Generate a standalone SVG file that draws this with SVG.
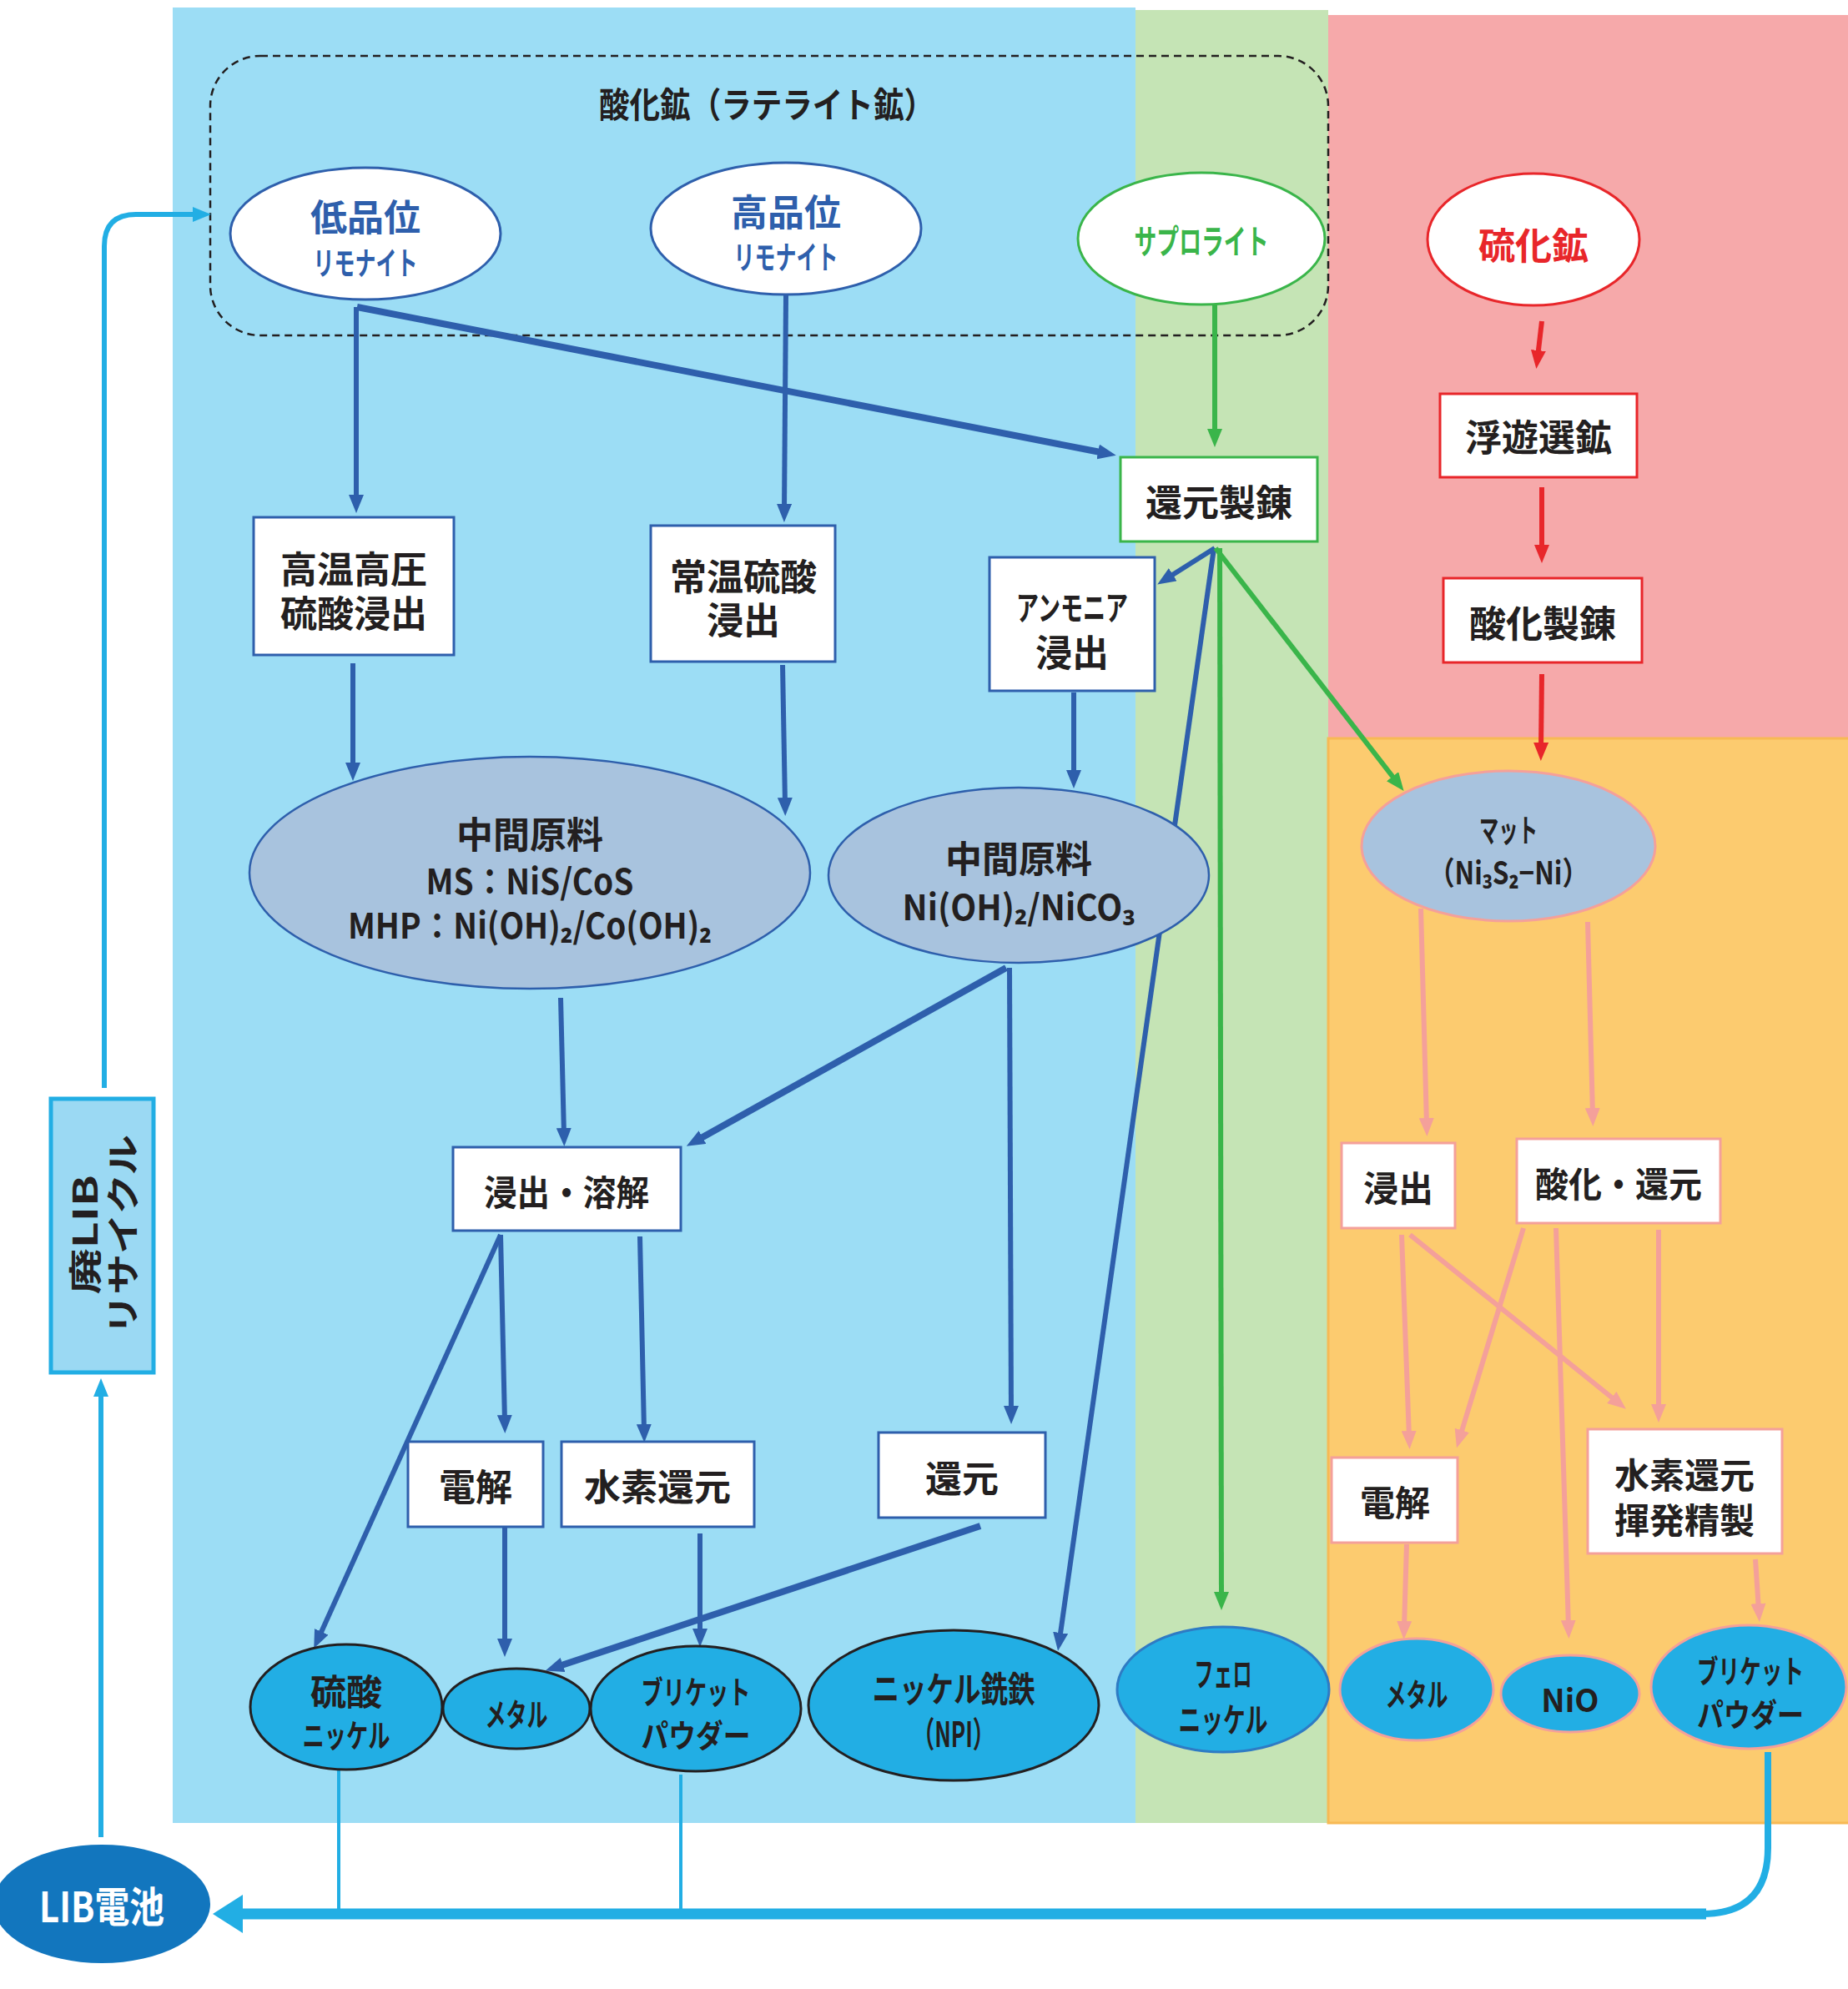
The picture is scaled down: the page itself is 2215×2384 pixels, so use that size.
<svg xmlns="http://www.w3.org/2000/svg" width="2215" height="2384" viewBox="0 0 2215 2384">
<style>
text{font-family:"Noto Sans CJK JP","Noto Sans",sans-serif;font-weight:700;text-anchor:middle;dominant-baseline:central;fill:#231F20}
.tb{fill:#2E5FAC}
.tg{fill:#3AB54A}
.tr{fill:#E8262A}
.tw{fill:#FFFFFF}
.box{fill:#FFFFFF;stroke-width:3}
.bb{stroke:#2E5FAC}
.bg{stroke:#3AB54A}
.br{stroke:#E8262A}
.bp{stroke:#F4A09A}
.lb{fill:none;stroke:#2E5FAC;stroke-width:6;marker-end:url(#ab)}
.lbt{fill:none;stroke:#2E5FAC;stroke-width:8;marker-end:url(#ab)}
.lg{fill:none;stroke:#3AB54A;stroke-width:6;marker-end:url(#ag)}
.lr{fill:none;stroke:#E8262A;stroke-width:6;marker-end:url(#ar)}
.lp{fill:none;stroke:#F4A09A;stroke-width:6;marker-end:url(#ap)}
.lc{fill:none;stroke:#22AEE4;stroke-width:6}
.prod{fill:#22AEE4;stroke:#231F20;stroke-width:3}
</style>
<defs>
<marker id="ab" viewBox="0 0 22 18" refX="8" refY="9" markerWidth="22" markerHeight="18" orient="auto" markerUnits="userSpaceOnUse"><path d="M0,0 L22,9 L0,18 z" fill="#2E5FAC"/></marker>
<marker id="ag" viewBox="0 0 22 18" refX="8" refY="9" markerWidth="22" markerHeight="18" orient="auto" markerUnits="userSpaceOnUse"><path d="M0,0 L22,9 L0,18 z" fill="#3AB54A"/></marker>
<marker id="ar" viewBox="0 0 22 18" refX="8" refY="9" markerWidth="22" markerHeight="18" orient="auto" markerUnits="userSpaceOnUse"><path d="M0,0 L22,9 L0,18 z" fill="#E8262A"/></marker>
<marker id="ap" viewBox="0 0 22 18" refX="8" refY="9" markerWidth="22" markerHeight="18" orient="auto" markerUnits="userSpaceOnUse"><path d="M0,0 L22,9 L0,18 z" fill="#F4A09A"/></marker>
<marker id="ac" viewBox="0 0 22 18" refX="8" refY="9" markerWidth="22" markerHeight="18" orient="auto" markerUnits="userSpaceOnUse"><path d="M0,0 L22,9 L0,18 z" fill="#22AEE4"/></marker>
<marker id="acb" viewBox="0 0 36 46" refX="10" refY="23" markerWidth="36" markerHeight="46" orient="auto" markerUnits="userSpaceOnUse"><path d="M0,0 L36,23 L0,46 z" fill="#22AEE4"/></marker>
</defs>
<rect width="2215" height="2384" fill="#FFFFFF"/>
<g id="regions">
<rect x="207" y="9" width="1154" height="2176" fill="#9CDDF5"/>
<rect x="1361" y="12" width="231" height="2173" fill="#C5E4B5"/>
<rect x="1592" y="18" width="623" height="867" fill="#F6A9AA"/>
<rect x="1592" y="885" width="625" height="1300" fill="#FCCB6F" stroke="#F7B955" stroke-width="3"/>
<rect x="252" y="67" width="1340" height="335" rx="60" ry="60" fill="none" stroke="#231F20" stroke-width="2.5" stroke-dasharray="9,6"/>
<text x="919" y="122" font-size="42" textLength="402" lengthAdjust="spacingAndGlyphs">酸化鉱（ラテライト鉱）</text>
</g>
<g id="connectors">
<path class="lb" d="M427,368 L427,601"/>
<path class="lbt" d="M428,368 L1324,543"/>
<path class="lb" d="M942,354 L940,612"/>
<path class="lb" d="M423,795 L423,922"/>
<path class="lb" d="M938,797 L941,964"/>
<path class="lb" d="M1287,830 L1287,931"/>
<path class="lb" d="M1456,657 L1399,693"/>
<path class="lb" d="M1455,657 L1270,1965"/>
<path class="lb" d="M672,1196 L676,1360"/>
<path class="lbt" d="M1206,1160 L835,1367"/>
<path class="lb" d="M1210,1160 L1212,1693"/>
<path class="lb" d="M600,1480 L382,1963"/>
<path class="lb" d="M600,1480 L605,1704"/>
<path class="lb" d="M767,1482 L772,1715"/>
<path class="lb" d="M605,1831 L605,1972"/>
<path class="lb" d="M839,1838 L839,1960"/>
<path class="lbt" d="M1175,1829 L667,1998"/>
<path class="lg" d="M1456,365 L1456,522"/>
<path class="lg" d="M1462,657 L1464,1916"/>
<path class="lg" d="M1457,657 L1674,937"/>
<path class="lr" d="M1848,385 L1843,428"/>
<path class="lr" d="M1848,584 L1848,661"/>
<path class="lr" d="M1848,808 L1847,898"/>
<path class="lp" d="M1703,1089 L1710,1348"/>
<path class="lp" d="M1903,1105 L1909,1336"/>
<path class="lp" d="M1680,1480 L1689,1723"/>
<path class="lp" d="M1690,1480 L1938,1680"/>
<path class="lp" d="M1826,1472 L1750,1722"/>
<path class="lp" d="M1865,1472 L1880,1950"/>
<path class="lp" d="M1988,1474 L1988,1691"/>
<path class="lp" d="M1686,1851 L1683,1951"/>
<path class="lp" d="M2104,1869 L2108,1930"/>
<path class="lc" d="M125,1304 L125,295 Q125,257 163,257 L239,257" marker-end="url(#ac)"/>
<path class="lc" d="M121,2202 L121,1666" marker-end="url(#ac)"/>
<path d="M2119,2100 L2119,2215 Q2119,2294 2040,2294" fill="none" stroke="#22AEE4" stroke-width="8"/>
<path d="M2045,2294 L281,2294" fill="none" stroke="#22AEE4" stroke-width="13" marker-end="url(#acb)"/>
<path d="M406,2121 L406,2294" fill="none" stroke="#22AEE4" stroke-width="4"/>
<path d="M816,2127 L816,2294" fill="none" stroke="#22AEE4" stroke-width="4"/>
</g>
<g id="n_teihinni">
<ellipse cx="438" cy="280" rx="162" ry="79" fill="#FFFFFF" stroke="#2E5FAC" stroke-width="3"/>
<text class="tb" x="438" y="258" font-size="44">低品位</text>
<text class="tb" x="438" y="312" font-size="38" textLength="125" lengthAdjust="spacingAndGlyphs">リモナイト</text>
</g>
<g id="n_kouhinni">
<ellipse cx="942" cy="274" rx="162" ry="79" fill="#FFFFFF" stroke="#2E5FAC" stroke-width="3"/>
<text class="tb" x="942" y="252" font-size="44">高品位</text>
<text class="tb" x="942" y="305" font-size="38" textLength="125" lengthAdjust="spacingAndGlyphs">リモナイト</text>
</g>
<g id="n_saprolite">
<ellipse cx="1440" cy="286" rx="148" ry="79" fill="#FFFFFF" stroke="#3AB54A" stroke-width="3"/>
<text class="tg" x="1440" y="287" font-size="40" textLength="161" lengthAdjust="spacingAndGlyphs">サプロライト</text>
</g>
<g id="n_ryukako">
<ellipse cx="1838" cy="287" rx="127" ry="79" fill="#FFFFFF" stroke="#E8262A" stroke-width="3"/>
<text class="tr" x="1838" y="292" font-size="44">硫化鉱</text>
</g>
<g id="n_fuyu">
<rect class="box br" x="1726" y="472" width="236" height="100"/>
<text x="1844" y="522" font-size="44">浮遊選鉱</text>
</g>
<g id="n_sankaseiren">
<rect class="box br" x="1730" y="693" width="238" height="101"/>
<text x="1849" y="745" font-size="44">酸化製錬</text>
</g>
<g id="n_kangenseiren">
<rect class="box bg" x="1343" y="548" width="236" height="101"/>
<text x="1461" y="600" font-size="44">還元製錬</text>
</g>
<g id="n_kouon">
<rect class="box bb" x="304" y="620" width="240" height="165"/>
<text x="424" y="680" font-size="44">高温高圧</text>
<text x="424" y="733" font-size="44">硫酸浸出</text>
</g>
<g id="n_jouon">
<rect class="box bb" x="780" y="630" width="221" height="163"/>
<text x="891" y="689" font-size="44">常温硫酸</text>
<text x="891" y="741" font-size="44">浸出</text>
</g>
<g id="n_ammonia">
<rect class="box bb" x="1186" y="668" width="198" height="160"/>
<text x="1285" y="726" font-size="40" textLength="134" lengthAdjust="spacingAndGlyphs">アンモニア</text>
<text x="1285" y="780" font-size="44">浸出</text>
</g>
<g id="n_chukan1">
<ellipse cx="635" cy="1046" rx="336" ry="139" fill="#A8C3DE" stroke="#2E5FAC" stroke-width="2.5"/>
<text x="635" y="998" font-size="44">中間原料</text>
<text x="635" y="1053" font-size="42" textLength="249" lengthAdjust="spacingAndGlyphs">MS：NiS/CoS</text>
<text x="635" y="1106" font-size="42" textLength="436" lengthAdjust="spacingAndGlyphs">MHP：Ni(OH)₂/Co(OH)₂</text>
</g>
<g id="n_chukan2">
<ellipse cx="1221" cy="1049" rx="228" ry="105" fill="#A8C3DE" stroke="#2E5FAC" stroke-width="2.5"/>
<text x="1221" y="1027" font-size="44">中間原料</text>
<text x="1221" y="1084" font-size="42" textLength="279" lengthAdjust="spacingAndGlyphs">Ni(OH)₂/NiCO₃</text>
</g>
<g id="n_shinshutsu_youkai">
<rect class="box bb" x="543" y="1375" width="273" height="100"/>
<text x="679" y="1426" font-size="42" textLength="198" lengthAdjust="spacingAndGlyphs">浸出・溶解</text>
</g>
<g id="n_denkai1">
<rect class="box bb" x="489" y="1728" width="162" height="102"/>
<text x="570" y="1780" font-size="44">電解</text>
</g>
<g id="n_suiso1">
<rect class="box bb" x="673" y="1728" width="231" height="102"/>
<text x="788" y="1780" font-size="44">水素還元</text>
</g>
<g id="n_kangen">
<rect class="box bb" x="1053" y="1717" width="200" height="102"/>
<text x="1153" y="1770" font-size="44">還元</text>
</g>
<g id="n_ryusan_nickel">
<ellipse class="prod" cx="415" cy="2046" rx="115" ry="75"/>
<text x="415" y="2025" font-size="43">硫酸</text>
<text x="415" y="2077" font-size="38" textLength="105" lengthAdjust="spacingAndGlyphs">ニッケル</text>
</g>
<g id="n_metal1">
<ellipse class="prod" cx="619" cy="2048" rx="88" ry="48"/>
<text x="619" y="2052" font-size="38" textLength="75" lengthAdjust="spacingAndGlyphs">メタル</text>
</g>
<g id="n_briquette1">
<ellipse class="prod" cx="834" cy="2048" rx="126" ry="75"/>
<text x="834" y="2025" font-size="38" textLength="131" lengthAdjust="spacingAndGlyphs">ブリケット</text>
<text x="834" y="2077" font-size="38" textLength="131" lengthAdjust="spacingAndGlyphs">パウダー</text>
</g>
<g id="n_npi">
<ellipse class="prod" cx="1143" cy="2044" rx="174" ry="90"/>
<text x="1143" y="2021" font-size="42" textLength="195" lengthAdjust="spacingAndGlyphs">ニッケル銑鉄</text>
<text x="1143" y="2075" font-size="42" textLength="98" lengthAdjust="spacingAndGlyphs">（NPI）</text>
</g>
<g id="n_ferro">
<ellipse cx="1466" cy="2025" rx="127" ry="75" fill="#22AEE4" stroke="#2E7BC4" stroke-width="3"/>
<text x="1466" y="2004" font-size="40" textLength="69" lengthAdjust="spacingAndGlyphs">フェロ</text>
<text x="1466" y="2059" font-size="40" textLength="107" lengthAdjust="spacingAndGlyphs">ニッケル</text>
</g>
<g id="n_matte">
<ellipse cx="1808" cy="1014" rx="176" ry="90" fill="#A8C3DE" stroke="#F4A09A" stroke-width="3"/>
<text x="1808" y="992" font-size="38" textLength="70" lengthAdjust="spacingAndGlyphs">マット</text>
<text x="1808" y="1043" font-size="38" textLength="192" lengthAdjust="spacingAndGlyphs">（Ni₃S₂−Ni）</text>
</g>
<g id="n_shinshutsu2">
<rect class="box bp" x="1608" y="1370" width="136" height="102"/>
<text x="1676" y="1421" font-size="42">浸出</text>
</g>
<g id="n_sanka_kangen">
<rect class="box bp" x="1818" y="1365" width="244" height="101"/>
<text x="1940" y="1416" font-size="42" textLength="200" lengthAdjust="spacingAndGlyphs">酸化・還元</text>
</g>
<g id="n_denkai2">
<rect class="box bp" x="1596" y="1747" width="151" height="102"/>
<text x="1672" y="1798" font-size="42">電解</text>
</g>
<g id="n_suiso2">
<rect class="box bp" x="1903" y="1713" width="233" height="149"/>
<text x="2019" y="1765" font-size="42">水素還元</text>
<text x="2019" y="1819" font-size="42">揮発精製</text>
</g>
<g id="n_metal2">
<ellipse cx="1698" cy="2025" rx="92" ry="61" fill="#22AEE4" stroke="#F4A09A" stroke-width="3"/>
<text x="1698" y="2028" font-size="38" textLength="75" lengthAdjust="spacingAndGlyphs">メタル</text>
</g>
<g id="n_nio">
<ellipse cx="1882" cy="2030" rx="83" ry="46" fill="#22AEE4" stroke="#F4A09A" stroke-width="3"/>
<text x="1882" y="2035" font-size="38">NiO</text>
</g>
<g id="n_briquette2">
<ellipse cx="2096" cy="2022" rx="117" ry="74" fill="#22AEE4" stroke="#F4A09A" stroke-width="3"/>
<text x="2098" y="2000" font-size="38" textLength="128" lengthAdjust="spacingAndGlyphs">ブリケット</text>
<text x="2098" y="2052" font-size="38" textLength="128" lengthAdjust="spacingAndGlyphs">パウダー</text>
</g>
<g id="n_lib_recycle">
<rect x="61" y="1317" width="123" height="328" fill="#9BD9F3" stroke="#22AEE4" stroke-width="5"/>
<g transform="rotate(-90 122 1480)">
<text x="122" y="1458" font-size="40" textLength="143" lengthAdjust="spacingAndGlyphs">廃LIB</text>
<text x="122" y="1503" font-size="40" textLength="240" lengthAdjust="spacingAndGlyphs">リサイクル</text>
</g>
</g>
<g id="n_lib_battery">
<ellipse cx="122" cy="2282" rx="130" ry="71" fill="#1276BE"/>
<text class="tw" x="122" y="2282" font-size="50" textLength="150" lengthAdjust="spacingAndGlyphs">LIB電池</text>
</g>
</svg>
